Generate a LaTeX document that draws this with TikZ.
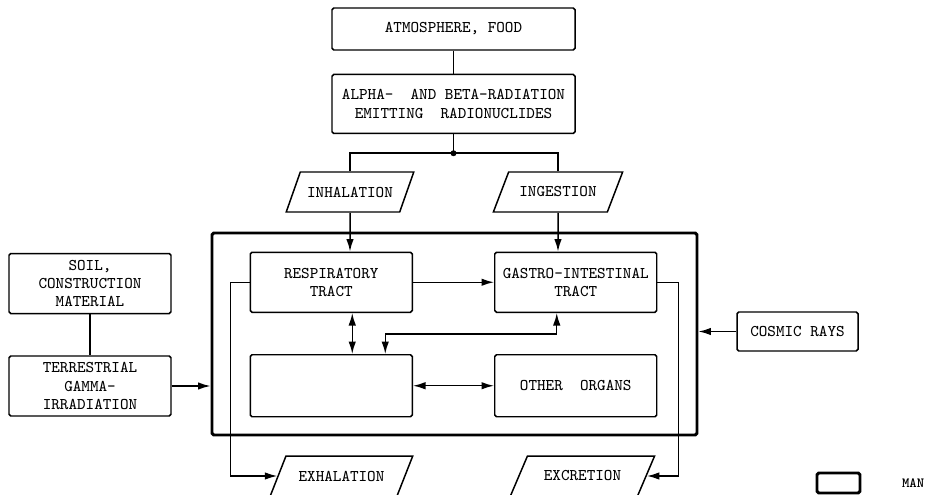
\documentclass[tikz,border=0pt]{standalone}
\usetikzlibrary{shapes.geometric, arrows.meta, positioning}

\begin{document}
\begin{tikzpicture}[
		font=\ttfamily\fontsize{9.3}{10.5}\selectfont,
		>={Latex[length=2.5mm,width=1.5mm]},
		line width=.85pt,
		box/.style={draw,rectangle,rounded corners=1pt,align=center,inner ysep=1pt,minimum width=3.24cm,minimum height=1.2cm},
		pgram/.style={draw,trapezium,trapezium left angle=58,trapezium right angle=122,trapezium stretches=true,minimum width=2.6cm,minimum height=.8cm},
		manbox/.style={draw,rectangle,rounded corners=1pt,line width=1.7pt}
		]
		\useasboundingbox (0,0) rectangle (18.58,-9.9);
		\node (atm) [box,minimum width=4.86cm,minimum height=.84cm] at (9.07,-.58) {ATMOSPHERE, FOOD};
		\node (rad) [below=.46cm of atm,box,minimum width=4.86cm,minimum height=1.18cm] {ALPHA-~ AND BETA-RADIATION\\EMITTING~ RADIONUCLIDES};
		\coordinate [below=.38cm of rad] (split);
		\node (inh) [pgram,minimum width=2.56cm] at (7.0,-3.84) {INHALATION};
		\node (ing) [pgram] at (11.16,-3.84) {INGESTION};
		\node (man) [manbox,minimum width=9.7cm,minimum height=4.04cm] at (9.09,-6.68) {};
		\node (resp) [below right=.4cm and .78cm of man.north west,box] {RESPIRATORY\\TRACT};
		\node (gi) [right=1.62cm of resp,box] {GASTRO-INTESTINAL\\TRACT};
		\node (blk) [below=.82cm of resp,box,minimum height=1.24cm] {};
		\node (oth) [right=1.62cm of blk,box,minimum height=1.24cm] {OTHER~ ORGANS};
		\node (terr) [box] at (1.8,-7.72) {TERRESTRIAL\\GAMMA-\\IRRADIATION};
		\node (soil) [above=.82cm of terr,box] {SOIL,\\CONSTRUCTION\\MATERIAL};
		\node (cos) [box,minimum width=2.42cm,minimum height=.78cm] at (15.95,-6.63) {COSMIC RAYS};
		\node (exh) [pgram,minimum width=2.86cm] at (6.83,-9.52) {EXHALATION};
		\node (exc) [pgram,minimum width=2.9cm] at (11.65,-9.52) {EXCRETION};
		\node (key) [manbox,minimum width=.86cm,minimum height=.4cm] at (16.77,-9.66) {};
		\node (keyt) [right=.68cm of key,font=\ttfamily\bfseries\footnotesize] {MAN};
		\draw (atm) -- (rad);
		\draw (rad) -- (split);
		\draw (split) -| (inh);
		\draw (split) -| (ing);
		\fill (split) circle (.06);
		\draw [->] (inh) -- (inh |- resp.north);
		\draw [->] (ing) -- (ing |- gi.north);
		\draw [->] (resp) -- (gi);
		\draw [<->] ([xshift=.42cm]resp.south) -- ([xshift=.42cm]resp.south |- blk.north);
		\draw [<->] ([xshift=-.38cm]gi.south) -- ++(0,-.42) -| ([xshift=1.08cm]blk.north);
		\draw [<->] (blk) -- (oth);
		\draw [->] (resp.west) -- ++(-.38,0) |- (exh);
		\draw [->] (gi.east) -- ++(.42,0) |- (exc);
		\draw [->] (terr) -- (terr -| man.west);
		\draw [->] (cos) -- (cos -| man.east);
		\draw (soil) -- (terr);
	\end{tikzpicture}
\end{document}
